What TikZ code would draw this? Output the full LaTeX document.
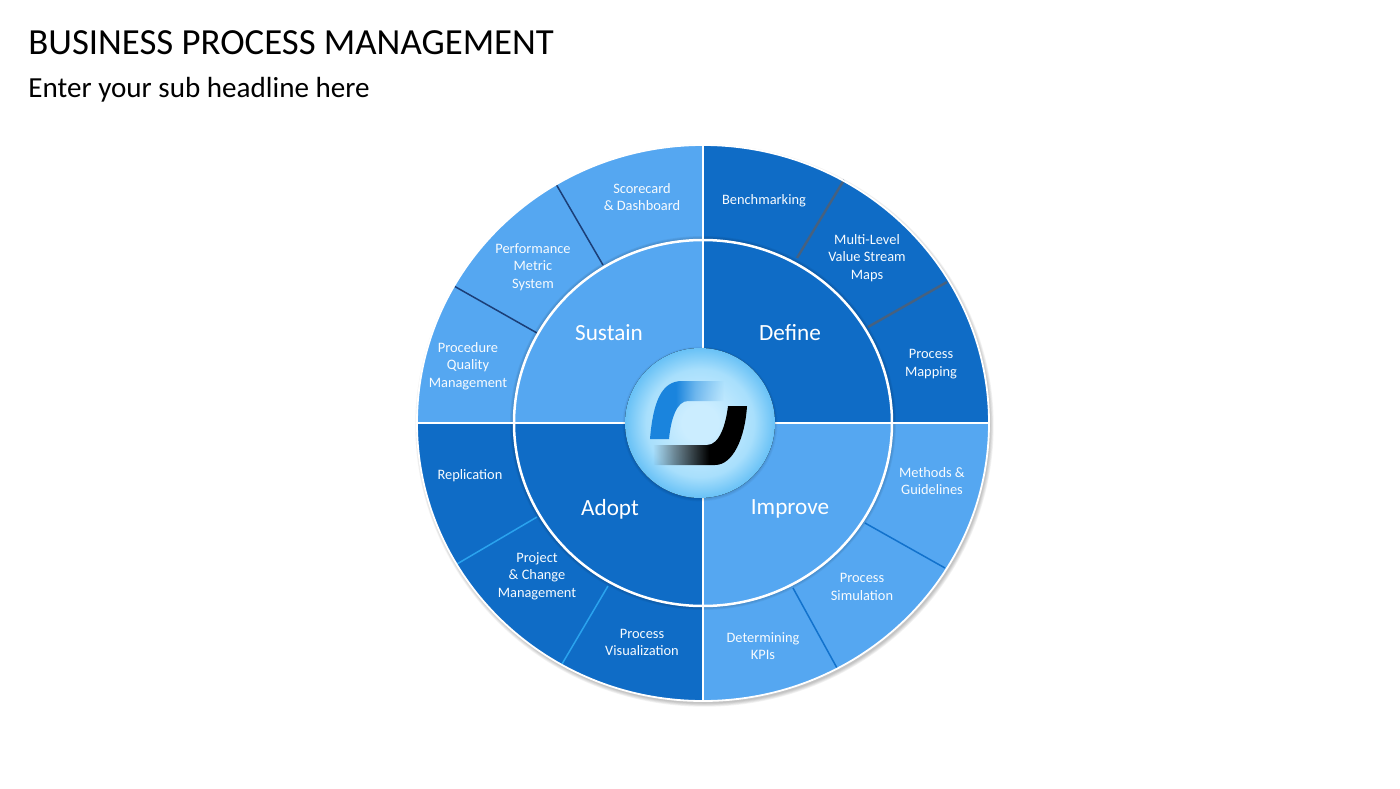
\documentclass[tikz,border=0pt]{standalone}
\usepackage{fontspec}
\usetikzlibrary{fadings}
\setmainfont{Carlito}
\definecolor{deepb}{HTML}{0F6CC6}
\definecolor{lightb}{HTML}{55A7F1}
\definecolor{lineD}{HTML}{47617F}
\definecolor{lineS}{HTML}{1B3F78}
\definecolor{lineI}{HTML}{1272CC}
\definecolor{lineA}{HTML}{2AA3EE}
\definecolor{hubA}{HTML}{CBEDFF}
\definecolor{hubB}{HTML}{A8DFFC}
\definecolor{hubC}{HTML}{68C1F6}
\definecolor{logoB}{HTML}{1A84DD}
\definecolor{fadeM}{gray}{0.42}
\definecolor{fadeN}{gray}{0.5}
\pgfdeclareradialshading{hubshade}{\pgfpoint{0bp}{0bp}}{color(0bp)=(hubA); color(6bp)=(hubA); color(18bp)=(hubB); color(25bp)=(hubC); color(100bp)=(hubC)}
\pgfdeclarehorizontalshading{fadeblueshade}{100bp}{color(0bp)=(white); color(41bp)=(white); color(53bp)=(fadeN); color(71bp)=(black); color(100bp)=(black)}
\pgfdeclarehorizontalshading{fadeblackshade}{100bp}{color(0bp)=(black); color(28bp)=(black); color(39bp)=(fadeM); color(56bp)=(white); color(100bp)=(white)}
\pgfdeclarefading{fadeblue}{\pgfuseshading{fadeblueshade}}
\pgfdeclarefading{fadeblack}{\pgfuseshading{fadeblackshade}}
\tikzset{
  x=0.5pt,y=0.5pt,
  small/.style={text=white!95!lightb,align=center,font=\fontsize{7.2}{8.75}\selectfont,inner sep=0pt},
  big/.style={text=white,align=center,font=\fontsize{11.6}{13}\selectfont,inner sep=0pt},
  ringw/.style={draw=white,line width=1.25pt},
}
\begin{document}
\begin{tikzpicture}
\useasboundingbox (-703,-365) rectangle (697,423);
\node[anchor=base west,inner sep=0pt,font=\fontsize{18.4}{20}\selectfont] (title) at (-675,368) {BUSINESS PROCESS MANAGEMENT};
\node[anchor=base west,inner sep=0pt,font=\fontsize{14.55}{16}\selectfont] (sub) at (-675,326) {Enter your sub headline here};
% outer shadow
\foreach \k in {0,...,4}{
  \fill[black,opacity=0.05] (1.5,-2.5) ellipse [x radius={286+\k*0.8},y radius={278+\k*0.8}];
}
% outer sectors
\fill[deepb] (0,0) -- (286,0) arc[start angle=0,end angle=90,x radius=286,y radius=278] -- cycle;
\fill[lightb] (0,0) -- (0,278) arc[start angle=90,end angle=180,x radius=286,y radius=278] -- cycle;
\fill[deepb] (0,0) -- (-286,0) arc[start angle=180,end angle=270,x radius=286,y radius=278] -- cycle;
\fill[lightb] (0,0) -- (0,-278) arc[start angle=270,end angle=360,x radius=286,y radius=278] -- cycle;
% separators
\foreach \n/\xa/\ya/\xb/\yb/\c/\w in {
  a/141/243/94/165/lineD/1.2pt,
  b/244/141/165/96/lineD/1.2pt,
  c/-147/239/-100/158/lineS/0.75pt,
  d/-249/137/-166/90/lineS/0.75pt,
  e/-246/-141/-166/-94/lineA/0.75pt,
  f/-141/-241/-95/-163/lineA/0.75pt,
  g/242/-145/162/-100/lineI/0.75pt,
  h/134/-245/90/-165/lineI/0.75pt}{
  \coordinate (q\n) at (\xa,\ya);
  \coordinate (p\n) at (\xb,\yb);
  \draw[\c,line width=\w] (p\n) -- (q\n);
}
% inner shadow
\foreach \k in {0,...,4}{
  \fill[black,opacity=0.05] (0,0) ellipse [x radius={189+\k},y radius={183+\k}];
}
% inner sectors
\fill[deepb] (0,0) -- (189,0) arc[start angle=0,end angle=90,x radius=189,y radius=183] -- cycle;
\fill[lightb] (0,0) -- (0,183) arc[start angle=90,end angle=180,x radius=189,y radius=183] -- cycle;
\fill[deepb] (0,0) -- (-189,0) arc[start angle=180,end angle=270,x radius=189,y radius=183] -- cycle;
\fill[lightb] (0,0) -- (0,-183) arc[start angle=270,end angle=360,x radius=189,y radius=183] -- cycle;
% dividers and rings
\draw[ringw] (-286,0) -- (286,0) (0,-278) -- (0,278);
\draw[ringw] (0,0) ellipse [x radius=189,y radius=183];
\draw[draw=white,line width=0.9pt] (0,0) ellipse [x radius=286,y radius=278];
% hub
\foreach \k in {0,...,3}{
  \fill[black,opacity=0.03] (-3,-1) circle ({75+\k*0.8});
}
\fill[shading=hubshade] (-3,0) circle (75);
% logo
\fill[logoB,path fading=fadeblue] (-53,-16) .. controls (-50,20) and (-42,42) .. (-21,42) -- (27,42) -- (27,22) -- (-15,22) .. controls (-26,22) and (-32,5) .. (-34,-16) -- cycle;
\fill[black,path fading=fadeblack] (44,17) -- (25,17) .. controls (23,0) and (17,-22) .. (4,-22) -- (-56,-22) -- (-56,-42) -- (12,-42) .. controls (30,-42) and (42,-15) .. (44,17) -- cycle;
% labels
\node[big] (define) at (87,90.5) {Define};
\node[big] (sustain) at (-94,90.5) {Sustain};
\node[big] (adopt) at (-93,-86) {Adopt};
\node[big] (improve) at (87,-86) {Improve};
\node[small] (bench) at (61,222) {Benchmarking};
\node[small] (multi) at (164,165) {Multi-Level\\Value Stream\\Maps};
\node[small] (mapping) at (228,59) {Process\\Mapping};
\node[small] (methods) at (229,-58) {Methods \&\\Guidelines};
\node[small] (simul) at (159,-164) {Process\\Simulation};
\node[small] (kpi) at (60,-223) {Determining\\KPIs};
\node[small] (visual) at (-61,-219.5) {Process\\Visualization};
\node[small] (project) at (-166,-153) {Project\\\& Change\\Management};
\node[small] (repl) at (-233,-52.5) {Replication};
\node[small] (quality) at (-235,57) {Procedure\\Quality\\Management};
\node[small] (metric) at (-170,156) {Performance\\Metric\\System};
\node[small] (score) at (-61,226) {Scorecard\\\& Dashboard};
\end{tikzpicture}
\end{document}
